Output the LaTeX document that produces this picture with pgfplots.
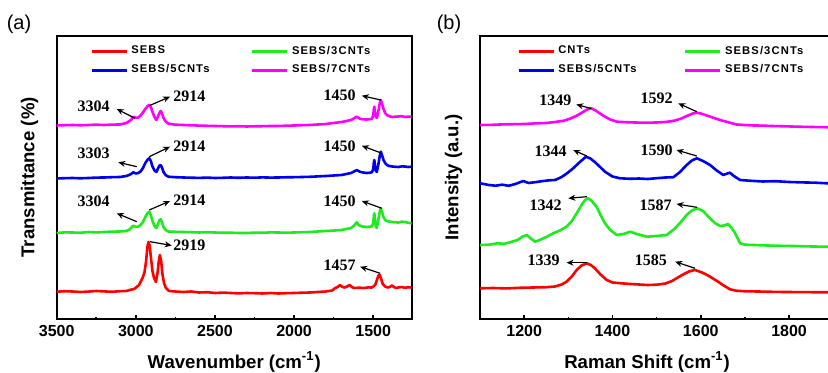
\documentclass[border=0pt]{standalone}
\usepackage{fontspec}
\setmainfont{Liberation Sans}
\newfontfamily\annfont{Liberation Serif}
\usepackage{pgfplots}
\pgfplotsset{compat=1.18}
\usetikzlibrary{arrows.meta}
\definecolor{cred}{RGB}{255,0,0}
\definecolor{cgreen}{RGB}{30,235,30}
\definecolor{cblue}{RGB}{0,0,240}
\definecolor{cmag}{RGB}{255,0,255}

\pgfplotsset{
  panel/.style={
    scale only axis, height=141.65pt, ymin=54, ymax=337.3,
    axis line style={line width=1pt}, ytick=\empty,
    xtick pos=bottom, tick align=inside, major tick length=2pt, minor tick length=1pt,
    every tick/.style={line width=0.8pt, black},
    /pgf/number format/assume math mode=true,
    /pgf/number format/1000 sep={},
    xticklabel style={font=\fontsize{8}{9}\selectfont\bfseries, anchor=center, yshift=-6pt},
    xlabel style={font=\fontsize{9.3}{11}\selectfont\bfseries, anchor=center},
    ylabel style={font=\fontsize{9.3}{11}\selectfont\bfseries, anchor=center},
    legend columns=2, legend cell align=left,
    legend style={draw=none, fill=none, inner sep=0pt, outer sep=0pt, anchor=north west,
      font=\fontsize{5.6}{6}\selectfont\bfseries\addfontfeature{LetterSpace=10},
      nodes={inner sep=0.6pt},
      row sep=2.6pt,
      /tikz/every odd column/.append style={column sep=1pt}},
    legend image code/.code={\draw[#1, line width=1.5pt] (0pt,0pt) -- (17.5pt,0pt);},
    every axis plot/.append style={line width=1.3pt, line join=round},
  },
}
\tikzset{
  ann/.style={font=\fontsize{8}{9}\selectfont\annfont\bfseries, inner sep=0pt},
  arr/.style={-{Stealth[length=3.5pt,width=3pt]}, line width=0.6pt, black},
}

\begin{document}
\begin{tikzpicture}
\useasboundingbox (0,0) rectangle (414pt,186.5pt);
\node[font=\fontsize{10}{12}\selectfont] at (9.5pt,174.5pt) {(a)};
\node[font=\fontsize{10}{12}\selectfont] at (224.5pt,174.5pt) {(b)};

% ---------------- (a) FTIR ----------------
\begin{axis}[panel, at={(28.35pt,27pt)}, anchor=south west, width=177.5pt,
  x dir=reverse, xmin=1257, xmax=3500,
  xtick={1500,2000,2500,3000,3500}, minor xtick={1750,2250,2750,3250},
  xlabel={Wavenumber (cm\textsuperscript{-1})},
  xlabel style={at={(axis description cs:0.5,-0.152)}},
  ylabel={Transmittance (\%)},
  ylabel style={at={(axis description cs:-0.0766,0.5)}},
  legend style={at={(axis description cs:0.094,0.968)},
    /tikz/every even column/.append style={column sep=20pt}},
]
\addplot[cred] coordinates {
(3500,81.3)(3450,81.8)(3400,81.5)(3350,81.0)(3300,81.4)(3250,82.0)(3200,81.6)(3150,81.2)(3100,81.8)(3060,82.0)
(3040,83)(3010,84)(2980,88)(2955,96)(2945,101)(2935,112)(2927,126)(2920,131)(2912,127)(2905,116)(2895,102)(2885,95)(2873,91)
(2862,101)(2855,112)(2848,118)(2840,112)(2833,100)(2822,90)(2810,85)(2790,82)(2750,81.5)(2700,81)(2650,81.5)(2600,80.5)
(2550,80.8)(2500,80)(2450,80.4)(2400,80)(2350,79.6)(2300,80)(2250,79.8)(2200,79.5)(2150,80)(2100,79.5)(2050,79.8)(2000,80)
(1950,80.3)(1900,80.5)(1850,81)(1800,81.5)(1760,82.5)(1740,85)(1725,86)(1710,88)(1695,86)(1680,85.5)(1665,86.5)(1650,88)
(1635,86)(1620,85)(1590,85.3)(1560,85)(1530,85.6)(1510,85.5)(1495,87)(1485,89)(1475,94)(1465,98)(1458,98)(1450,94)(1440,89)
(1425,86.5)(1410,85.5)(1395,86)(1382,87.5)(1370,86)(1355,85)(1340,85.5)(1320,86)(1300,85.2)(1280,85.8)(1260,85.5)(1257,85.5)};
\addplot[cgreen] coordinates {
(3500,140)(3450,140.6)(3400,140.5)(3350,140.2)(3300,141)(3250,140.6)(3200,141)(3150,141.4)(3100,141.5)(3060,142)
(3040,143.5)(3030,145)(3016,147.3)(3000,146)(2985,146.5)(2970,148)(2955,151)(2940,156)(2925,160)(2915,161.3)(2905,158)
(2895,152)(2882,147)(2870,145)(2860,149)(2850,153)(2843,153.7)(2835,151)(2825,146)(2812,143)(2795,141.5)(2750,141.2)
(2700,141)(2650,140.8)(2600,140.5)(2550,140.8)(2500,140.5)(2450,140.2)(2400,140.3)(2350,140)(2300,140)(2250,140.4)
(2200,140.2)(2150,140.6)(2100,140.5)(2050,140.3)(2000,140.5)(1950,140.8)(1900,141)(1850,141.5)(1800,142)(1750,142.4)
(1700,143)(1670,144)(1640,145)(1620,147.5)(1604,150.7)(1592,148)(1580,147)(1560,146.3)(1540,146)(1520,146.3)(1508,146.8)
(1500,150)(1496,157)(1493,159.7)(1489,153)(1484,147)(1478,145)(1472,149)(1465,156)(1458,162)(1452,164.7)(1445,161)
(1435,156)(1425,153)(1414,152)(1400,151.5)(1380,151)(1360,150.6)(1340,150.5)(1320,151.3)(1300,151)(1280,150.2)(1257,149.7)};
\addplot[cblue] coordinates {
(3500,194.5)(3450,194.8)(3400,195)(3350,194.7)(3300,195)(3250,195.4)(3200,195.5)(3150,195.8)(3100,196)(3060,197)
(3040,198.2)(3030,199)(3016,200.7)(3000,199.5)(2985,200)(2970,201.5)(2955,205)(2940,210)(2925,213.5)(2915,214.7)(2905,212)
(2895,206.5)(2882,202.5)(2870,201)(2860,204.5)(2850,207.5)(2843,208)(2835,205.5)(2825,201)(2812,198)(2795,196.3)(2750,195.8)
(2700,195.5)(2650,195.3)(2600,195.1)(2550,195.4)(2500,195)(2450,195.2)(2400,195.5)(2350,195.2)(2300,195.5)(2250,195.3)
(2200,195.6)(2150,195.4)(2100,195.5)(2050,195.7)(2000,195.8)(1950,196)(1900,196.2)(1850,196.6)(1800,197)(1750,197.5)
(1700,198)(1670,199)(1640,200)(1620,201.6)(1604,203)(1592,201.8)(1580,201)(1560,200.4)(1540,200)(1520,200.3)(1508,200.8)
(1500,204)(1496,210.5)(1493,213)(1489,207)(1484,202.5)(1478,201)(1472,205)(1465,211)(1458,218)(1452,221.3)(1445,218)
(1435,213)(1425,210)(1414,208)(1400,207)(1380,206.5)(1360,206.2)(1340,206)(1320,206.6)(1300,206.5)(1280,206)(1257,206.3)};
\addplot[cmag] coordinates {
(3500,247.5)(3450,247.8)(3400,248)(3350,247.7)(3300,248)(3250,248.3)(3200,248)(3150,248.4)(3100,248.5)(3060,250)
(3040,252)(3030,253)(3016,256.3)(3000,255)(2985,255.5)(2970,257.5)(2955,260.5)(2940,264)(2925,267)(2915,268)(2905,266)
(2895,261)(2882,256)(2870,253)(2860,256.5)(2850,260.5)(2843,262)(2835,259.5)(2825,255)(2812,251.5)(2795,249.3)(2750,248.3)
(2700,248)(2650,247.7)(2600,247.4)(2550,247.2)(2500,247)(2450,246.8)(2400,246.6)(2350,246.8)(2300,246.5)(2250,246.7)
(2200,246.8)(2150,247)(2100,247)(2050,247.3)(2000,247.5)(1950,247.8)(1900,248)(1850,248.5)(1800,249)(1750,250)
(1700,251)(1670,252)(1640,253)(1620,254.8)(1604,256.3)(1592,255)(1580,254)(1560,253.6)(1540,253.5)(1520,253.8)(1508,254.3)
(1500,258)(1496,264)(1493,266.3)(1489,260.5)(1484,256.5)(1478,255)(1472,258.5)(1465,264)(1458,270.5)(1452,273)(1445,269.5)
(1435,264)(1425,260)(1414,258)(1400,256.8)(1380,256)(1360,256.3)(1340,256.5)(1320,256.8)(1300,256)(1280,256.4)(1257,256.3)};
\legend{SEBS,SEBS/3CNTs,SEBS/5CNTs,SEBS/7CNTs}
% annotations
\node[ann, anchor=east] at (axis cs:3163,267) {3304};
\draw[arr] (axis cs:3005,254.7) -- (axis cs:3121,264);
\node[ann, anchor=west] at (axis cs:2765,276.5) {2914};
\draw[arr] (axis cs:2915,267.3) -- (axis cs:2784,276.3);
\node[ann, anchor=east] at (axis cs:1608,278) {1450};
\draw[arr] (axis cs:1452,273) -- (axis cs:1572,277.3);

\node[ann, anchor=east] at (axis cs:3163,219.7) {3303};
\draw[arr] (axis cs:2994,206.3) -- (axis cs:3111,210.7);
\node[ann, anchor=west] at (axis cs:2765,226.3) {2914};
\draw[arr] (axis cs:2915,216.3) -- (axis cs:2784,226.3);
\node[ann, anchor=east] at (axis cs:1608,226.3) {1450};
\draw[arr] (axis cs:1446,219.7) -- (axis cs:1572,227.3);

\node[ann, anchor=east] at (axis cs:3163,171.3) {3304};
\draw[arr] (axis cs:2994,151.3) -- (axis cs:3121,159.7);
\node[ann, anchor=west] at (axis cs:2765,173) {2914};
\draw[arr] (axis cs:2915,163) -- (axis cs:2784,172);
\node[ann, anchor=east] at (axis cs:1608,171.3) {1450};
\draw[arr] (axis cs:1446,164.7) -- (axis cs:1572,172);

\node[ann, anchor=west] at (axis cs:2765,128) {2919};
\draw[arr] (axis cs:2910,131.3) -- (axis cs:2773,127.5);
\node[ann, anchor=east] at (axis cs:1608,108) {1457};
\draw[arr] (axis cs:1456,99.7) -- (axis cs:1583,106.3);
\end{axis}

% ---------------- (b) Raman ----------------
\begin{axis}[panel, at={(240pt,27pt)}, anchor=south west, width=176.6pt,
  xmin=1100, xmax=1900,
  xtick={1200,1400,1600,1800}, minor xtick={1300,1500,1700},
  xlabel={Raman Shift (cm\textsuperscript{-1})},
  xlabel style={at={(axis description cs:0.473,-0.152)}},
  ylabel={Intensity (a.u.)},
  ylabel style={at={(axis description cs:-0.075,0.5)}},
  legend style={at={(axis description cs:0.105,0.968)},
    /tikz/every even column/.append style={column sep=23pt}},
]
\addplot[cred] coordinates {
(1100,84.7)(1130,85)(1160,84.6)(1190,85.2)(1220,85.5)(1250,85.8)(1270,86.5)(1285,88.5)(1296,91.3)(1308,96.5)(1319,103)
(1330,107.5)(1342,109.7)(1351,108)(1360,104.7)(1373,98.5)(1387,93)(1400,90.5)(1420,89.7)(1440,89)(1460,88.5)(1480,88)
(1500,88.3)(1520,89.5)(1535,92)(1545,94.7)(1560,98.5)(1575,101.8)(1587,103)(1600,101)(1610,99)(1621,96.3)(1635,92.5)
(1650,88)(1666,83.7)(1680,82.3)(1700,81.7)(1730,81.5)(1760,81.2)(1790,81)(1820,80.9)(1850,80.8)(1880,80.7)(1900,80.7)};
\addplot[cgreen] coordinates {
(1100,128)(1120,128.3)(1140,129.7)(1155,129.2)(1170,131)(1185,133)(1197,136.5)(1206,138)(1215,134.5)(1225,131.3)(1235,133)
(1250,136)(1266,139.7)(1281,142.5)(1296,146.3)(1308,152)(1319,159.7)(1330,168)(1338,173)(1345,174.7)(1352,172.5)(1364,166.3)
(1373,158)(1383,149.7)(1395,143)(1410,138)(1425,139)(1440,141.3)(1455,139)(1478,136.3)(1500,137)(1523,138)(1540,144)
(1555,151)(1568,158)(1580,162.5)(1592,164.7)(1605,162)(1621,154.7)(1632,150)(1644,147)(1653,147.5)(1662,149)(1670,145)
(1678,139.7)(1689,129.7)(1700,128.3)(1720,128)(1750,127.5)(1780,127.2)(1810,127)(1840,126.6)(1870,126.4)(1900,126.3)};
\addplot[cblue] coordinates {
(1100,189.7)(1120,188)(1135,187.3)(1150,188.3)(1165,187.2)(1180,189)(1198,192)(1210,190)(1225,190.8)(1240,191.8)(1255,192.6)
(1270,193)(1285,196)(1298,200)(1311,204.7)(1325,210.5)(1340,216.3)(1350,214.5)(1360,211)(1372,206)(1383,201.3)(1400,196.5)
(1417,194.7)(1440,194.2)(1460,194.5)(1480,194)(1500,194.8)(1520,195.5)(1538,195.8)(1553,201)(1568,208)(1580,212.5)
(1591,214.7)(1605,212)(1621,208)(1636,202.5)(1651,198)(1660,199.5)(1666,200.3)(1675,197)(1689,193)(1710,192.3)
(1740,191.5)(1770,191.8)(1800,191)(1830,190.6)(1860,190.3)(1880,189.8)(1900,189.7)};
\addplot[cmag] coordinates {
(1100,248)(1130,248.2)(1150,248.6)(1175,248.8)(1200,249)(1225,249.6)(1250,250)(1270,251)(1290,252.3)(1305,254.5)
(1320,257.5)(1335,261.5)(1345,264)(1352,264.7)(1360,263)(1370,260)(1382,256.5)(1395,253.5)(1410,251.3)(1430,250.8)
(1450,250.5)(1475,250.3)(1500,250.5)(1520,251)(1540,252.3)(1555,254.3)(1570,257.3)(1582,259.5)(1591,260.3)(1600,259.5)
(1615,257.3)(1630,255)(1645,252.8)(1660,251)(1681,248.5)(1700,248)(1720,247.5)(1740,247.4)(1760,247)(1790,246.7)
(1820,246.3)(1850,246)(1880,245.8)(1900,245.7)};
\legend{CNTs,SEBS/3CNTs,SEBS/5CNTs,SEBS/7CNTs}
\node[ann, anchor=east] at (axis cs:1308,273) {1349};
\draw[arr] (axis cs:1352,264.5) -- (axis cs:1318,268.5);
\node[ann, anchor=east] at (axis cs:1537,275) {1592};
\draw[arr] (axis cs:1591,261.3) -- (axis cs:1549,269.7);

\node[ann, anchor=east] at (axis cs:1297,221.3) {1344};
\draw[arr] (axis cs:1342,217) -- (axis cs:1311,223);
\node[ann, anchor=east] at (axis cs:1537,223) {1590};
\draw[arr] (axis cs:1591,217) -- (axis cs:1545,223);

\node[ann, anchor=east] at (axis cs:1286,168) {1342};
\draw[arr] (axis cs:1342,176.3) -- (axis cs:1300,174.7);
\node[ann, anchor=east] at (axis cs:1535,168) {1587};
\draw[arr] (axis cs:1591,165.7) -- (axis cs:1545,169);

\node[ann, anchor=east] at (axis cs:1281,112.3) {1339};
\draw[arr] (axis cs:1342,110.3) -- (axis cs:1296,110.3);
\node[ann, anchor=east] at (axis cs:1524,112.3) {1585};
\draw[arr] (axis cs:1587,104.7) -- (axis cs:1542,111.3);
\end{axis}
\end{tikzpicture}
\end{document}
